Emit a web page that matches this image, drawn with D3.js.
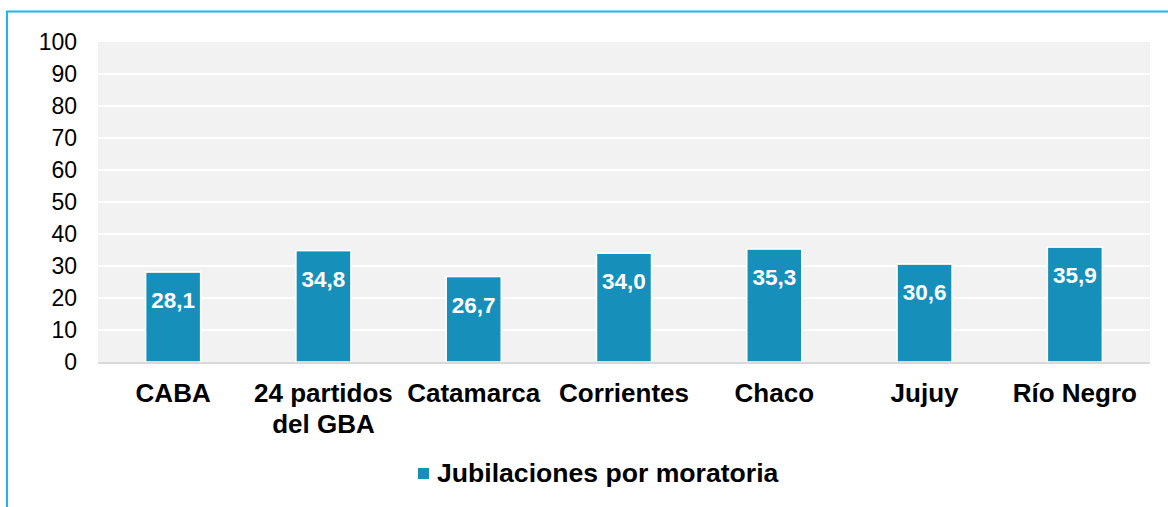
<!DOCTYPE html>
<html>
<head>
<meta charset="utf-8">
<script src="https://cdn.jsdelivr.net/npm/d3@7"></script>
<style>
  body { margin: 0; background: #fff; }
  svg { display: block; font-family: "Liberation Sans", Arial, sans-serif; }
</style>
</head>
<body>
<script>
// Data
var categories = ['CABA', '24 partidos\ndel GBA', 'Catamarca', 'Corrientes', 'Chaco', 'Jujuy', 'Río Negro'];
var values = [28.1, 34.8, 26.7, 34.0, 35.3, 30.6, 35.9];
var yTicks = [0, 10, 20, 30, 40, 50, 60, 70, 80, 90, 100];
var seriesName = 'Jubilaciones por moratoria';

function drawChart(){
    var width = 1168,
        height = 507;
    var margin = {top: 42, right: 18, bottom: 145, left: 98};
    var barColor = '#178fbb';

    var svg = d3.select('body')
        .append('svg')
        .attr('width', width)
        .attr('height', height);

    //Outer frame (only top and left edges visible)
    svg.append('rect')
        .attr('x', 7)
        .attr('y', 11.5)
        .attr('width', width + 20)
        .attr('height', height + 20)
        .attr('fill', 'none')
        .attr('stroke', '#1fb6ec')
        .attr('stroke-width', 2);

    var x = d3.scaleBand()
        .domain(categories)
        .range([margin.left, width - margin.right])
        .paddingInner(0.634)
        .paddingOuter(0.317);

    var y = d3.scaleLinear()
        .domain([0, 100])
        .range([height - margin.bottom, margin.top]);

    //Plot background
    svg.append('rect')
        .attr('x', margin.left)
        .attr('y', y(100))
        .attr('width', width - margin.right - margin.left)
        .attr('height', y(0) - y(100))
        .attr('fill', '#f2f2f2');

    //Gridlines
    svg.selectAll('.grid')
        .data(yTicks.filter(function(d){ return d > 0 && d < 100; }))
        .enter()
        .append('line')
        .attr('class', 'grid')
        .attr('x1', margin.left)
        .attr('x2', width - margin.right)
        .attr('y1', function(d){ return y(d); })
        .attr('y2', function(d){ return y(d); })
        .attr('stroke', '#ffffff')
        .attr('stroke-width', 2);

    //Y axis
    var yAxis = svg.append('g')
        .attr('transform', 'translate(' + (margin.left - 21) + ',0)')
        .call(d3.axisLeft(y).tickValues(yTicks).tickSize(0).tickPadding(0));
    yAxis.select('.domain').remove();
    yAxis.selectAll('text')
        .attr('font-size', 23)
        .attr('font-family', '"Liberation Sans", Arial, sans-serif')
        .attr('fill', '#000');

    //Bars
    svg.selectAll('.bar')
        .data(values)
        .enter()
        .append('rect')
        .attr('class', 'bar')
        .attr('x', function(d, i){ return x(categories[i]); })
        .attr('y', function(d){ return y(d); })
        .attr('width', x.bandwidth())
        .attr('height', function(d){ return y(0) - y(d); })
        .attr('fill', barColor)
        .attr('stroke', '#ffffff')
        .attr('stroke-width', 1.5);

    //Baseline
    svg.append('line')
        .attr('x1', margin.left)
        .attr('x2', width - margin.right)
        .attr('y1', y(0) + 1)
        .attr('y2', y(0) + 1)
        .attr('stroke', '#d9d9d9')
        .attr('stroke-width', 2);

    //Value labels
    svg.selectAll('.val')
        .data(values)
        .enter()
        .append('text')
        .attr('class', 'val')
        .attr('x', function(d, i){ return x(categories[i]) + x.bandwidth() / 2; })
        .attr('y', function(d){ return y(d) + 36; })
        .attr('text-anchor', 'middle')
        .attr('font-size', 22.5)
        .attr('font-weight', 'bold')
        .attr('fill', '#ffffff')
        .text(function(d){ return d.toFixed(1).replace('.', ','); });

    //Category labels
    var cats = svg.selectAll('.cat')
        .data(categories)
        .enter()
        .append('text')
        .attr('class', 'cat')
        .attr('x', function(d){ return x(d) + x.bandwidth() / 2; })
        .attr('y', y(0) + 40)
        .attr('text-anchor', 'middle')
        .attr('font-size', 26)
        .attr('font-weight', 'bold')
        .attr('fill', '#000');
    cats.selectAll('tspan')
        .data(function(d){ return d.split('\n'); })
        .enter()
        .append('tspan')
        .attr('x', function(){ return d3.select(this.parentNode).attr('x'); })
        .attr('dy', function(d, i){ return i === 0 ? 0 : 31; })
        .text(function(d){ return d; });

    //Legend
    var legend = svg.append('g')
        .attr('transform', 'translate(418,468)');
    legend.append('rect')
        .attr('x', 0)
        .attr('y', 0)
        .attr('width', 11)
        .attr('height', 11)
        .attr('fill', barColor);
    legend.append('text')
        .attr('x', 19)
        .attr('y', 13.5)
        .attr('font-size', 26.6)
        .attr('font-weight', 'bold')
        .attr('fill', '#000')
        .text(seriesName);
}

window.onload = drawChart();
</script>
</body>
</html>
